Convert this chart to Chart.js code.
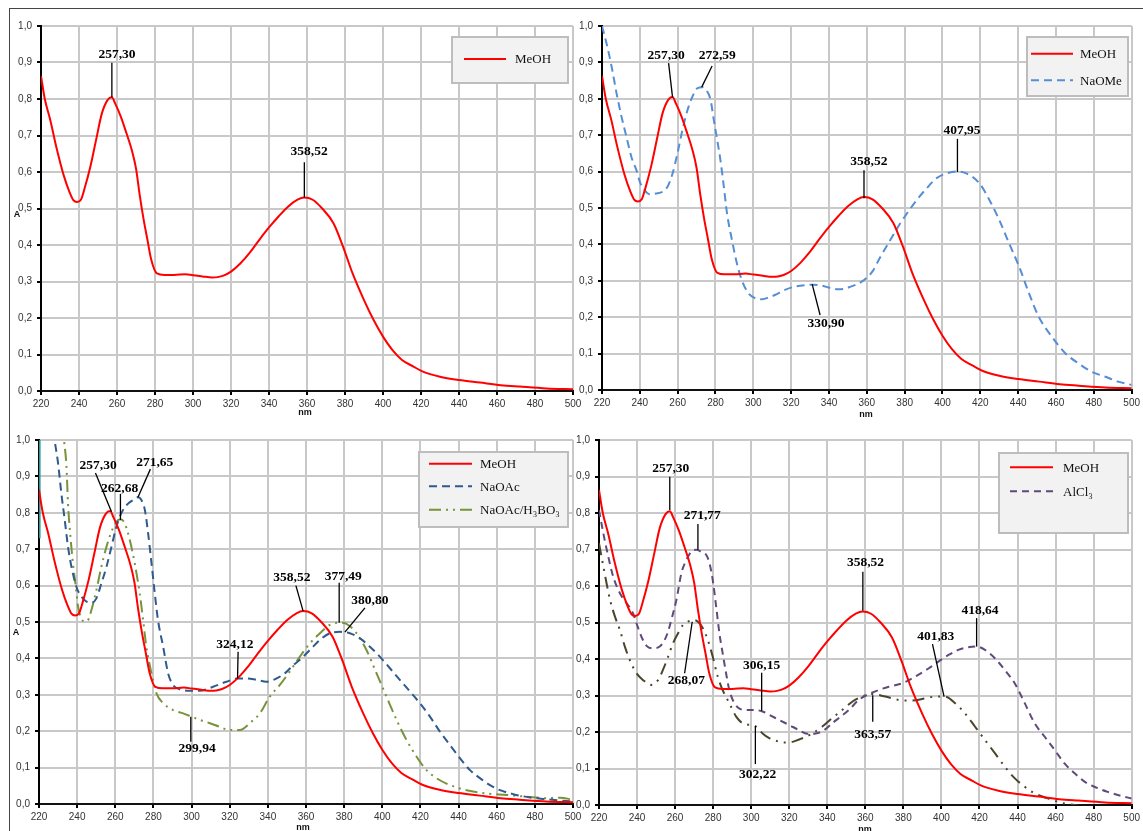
<!DOCTYPE html>
<html lang="es">
<head>
<meta charset="UTF-8">
<title>Espectros UV</title>
<style>
  body { margin: 0; background: #fff; }
  #wrap { position: relative; width: 1143px; height: 831px; overflow: hidden; }
  #frame { position: absolute; left: 9px; top: 8px; width: 1400px; height: 1200px; border: 1px solid #444; }
  canvas { position: absolute; left: 0; top: 0; }
</style>
</head>
<body>
<div id="wrap">
  <div id="frame"></div>
  <canvas id="c1" width="1143" height="831"></canvas>
  <canvas id="c2" width="1143" height="831"></canvas>
  <canvas id="c3" width="1143" height="831"></canvas>
  <canvas id="c4" width="1143" height="831"></canvas>
</div>

<script src="https://cdn.jsdelivr.net/npm/chart.js"></script>
<script>
// ---- data (nm / absorbance) ----
const yTickLabels = ['0,0', '0,1', '0,2', '0,3', '0,4', '0,5', '0,6', '0,7', '0,8', '0,9', '1,0'];

const meohNm = [220,222,225,228,232,235,237,239,241,243,246,249,252,255,257.3,259,262,265,268,270,272,274,276,278,281,285,290,296,300,305,310,313,316,320,325,330,335,340,345,350,355,358.5,363,368,374,379,384,390,395,400,405,410,416,421,430,440,451,462,472,486,500];
const meohA  = [0.863,0.80,0.74,0.67,0.59,0.545,0.523,0.518,0.524,0.556,0.615,0.688,0.76,0.797,0.805,0.788,0.752,0.706,0.656,0.61,0.535,0.47,0.415,0.36,0.322,0.318,0.318,0.32,0.317,0.314,0.311,0.312,0.316,0.327,0.350,0.38,0.415,0.448,0.478,0.505,0.524,0.530,0.524,0.50,0.459,0.395,0.322,0.249,0.195,0.149,0.112,0.085,0.067,0.053,0.039,0.030,0.023,0.016,0.012,0.007,0.005];

const naomeNm = [220,222.4,225.1,227.7,230.3,232.9,235.5,238.2,240,242.5,245.1,248.6,252.1,254.7,257.3,259.9,262.5,265.2,267.8,270.4,273,275.6,277.4,279.1,280.9,282.6,284.4,286.1,288.7,291.3,293.9,297.4,301,304.4,307.9,311.4,316.7,321.9,327.1,331.5,335.8,341,344.5,348,351.5,355,358.5,362.9,367.2,372.4,377.7,381.2,386.4,391.6,396.9,402.1,407.3,412.6,419.5,424.8,430,435.2,440.5,445.7,450.9,457.9,464.9,471.9,478.9,485.8,492.8,500];
const naomeA  = [1.0,0.952,0.888,0.815,0.751,0.696,0.641,0.604,0.572,0.549,0.538,0.540,0.545,0.559,0.595,0.650,0.714,0.769,0.806,0.829,0.832,0.820,0.797,0.742,0.687,0.632,0.559,0.485,0.412,0.348,0.302,0.266,0.252,0.249,0.254,0.261,0.275,0.284,0.288,0.289,0.287,0.280,0.277,0.278,0.284,0.291,0.302,0.325,0.366,0.412,0.458,0.485,0.522,0.554,0.582,0.595,0.600,0.595,0.568,0.522,0.467,0.403,0.339,0.266,0.201,0.146,0.101,0.073,0.050,0.037,0.023,0.014];

const naoacNm = [226.5,228,230,231.7,233.5,235.2,237,239.6,242.2,244.9,247.5,250.1,252.7,255.4,258,260.6,263.2,265.9,269.3,272,273.7,275.5,277.2,279,280.7,282.4,285.1,287.7,290.3,293.8,299.1,304.3,311.3,318.3,324.4,328.8,334.1,339.3,344.6,349.8,353,356.8,362,367.3,372.5,377.8,383,388.3,393.5,398.7,404,409.2,414.5,419.7,425,430.2,435.5,440.7,446,451.2,456.5,461.7,468.7,477.5,486.2,496.7,500];
const naoacA  = [1.06,1.005,0.936,0.854,0.780,0.707,0.652,0.597,0.570,0.556,0.553,0.565,0.606,0.652,0.707,0.762,0.799,0.821,0.835,0.843,0.835,0.808,0.744,0.661,0.579,0.505,0.432,0.359,0.327,0.315,0.311,0.311,0.322,0.336,0.345,0.345,0.341,0.336,0.345,0.363,0.38,0.396,0.423,0.451,0.469,0.473,0.469,0.455,0.432,0.405,0.373,0.341,0.309,0.277,0.240,0.199,0.162,0.126,0.093,0.071,0.052,0.038,0.027,0.018,0.013,0.008,0.007];

const boricNm = [232,233,234.4,235.2,236.5,237.8,239.3,240.5,242.2,244,245.7,247.5,250.1,252.7,255.4,258,260.6,262.7,265,267.6,270.2,272.8,274.6,276.3,279,281.6,285.1,290.3,295.6,300,304.3,309.6,314.8,320.1,325.3,330.5,335.8,341,346.3,351.5,356.8,362,367.3,372.5,377.8,381.2,386.5,391.7,397,402.2,407.5,412.7,418,423.2,428.4,435.5,444.2,454.7,465.2,475.7,486.2,493.2,500];
const boricA  = [1.06,1.005,0.927,0.826,0.734,0.661,0.597,0.542,0.510,0.501,0.505,0.533,0.588,0.652,0.707,0.748,0.776,0.782,0.771,0.725,0.661,0.579,0.505,0.432,0.359,0.304,0.277,0.258,0.249,0.240,0.231,0.222,0.212,0.203,0.203,0.222,0.249,0.295,0.327,0.364,0.405,0.441,0.469,0.492,0.498,0.495,0.469,0.423,0.359,0.295,0.231,0.176,0.130,0.093,0.071,0.052,0.038,0.029,0.025,0.020,0.016,0.017,0.012];

const edgeNm = [220.3, 220.3];
const edgeA  = [1.05, 0.73];

const alclNm = [220,222.3,224.9,227.5,231,234.5,237.9,239.7,242.3,245,248.4,251.9,254.5,256.3,258,260.7,263.3,265.9,268.5,271.1,273.7,276.4,278.1,279.8,281.6,283.3,285,286.8,288.5,291.2,294.7,299,302.5,306,309.5,314.7,320,325.2,329.5,333.9,338.3,342.6,347,351.3,356.6,361.8,367,372.3,379.2,386.2,393.2,398.4,403.7,408.9,414.1,418.5,422.9,428.1,433.3,438.6,443.8,449,454.3,459.5,464.7,470,475.2,480.4,487.4,494.4,500];
const alclA  = [0.808,0.744,0.680,0.625,0.580,0.553,0.525,0.498,0.461,0.436,0.429,0.434,0.452,0.475,0.507,0.562,0.635,0.671,0.694,0.699,0.694,0.685,0.662,0.616,0.543,0.470,0.416,0.361,0.315,0.279,0.262,0.260,0.260,0.256,0.247,0.233,0.219,0.205,0.195,0.196,0.205,0.224,0.242,0.260,0.288,0.304,0.315,0.324,0.333,0.352,0.374,0.393,0.411,0.425,0.432,0.434,0.425,0.402,0.370,0.333,0.279,0.224,0.187,0.151,0.114,0.087,0.064,0.050,0.036,0.025,0.018];

const hclNm = [220,222.3,224,225.8,228.4,231,233.6,236.2,239.7,243.2,247.6,251,253.6,256.3,258.9,261.5,264.1,266.7,269.3,272,274.6,277.2,279.8,282.4,285,288.5,292.1,295.5,299.9,302.5,306,309.5,313,317.3,321.7,326.9,332.1,337.4,342.6,347.8,353.1,358.3,363.5,370.5,377.5,384.5,391.5,396.7,401.9,407.2,412.4,417.6,422.9,428.1,433.3,438.6,443.8,449,456,463,470,476,482];
const hclA  = [0.717,0.653,0.607,0.562,0.516,0.479,0.434,0.397,0.361,0.342,0.329,0.342,0.370,0.406,0.443,0.470,0.493,0.502,0.507,0.502,0.484,0.452,0.406,0.352,0.315,0.279,0.242,0.224,0.219,0.215,0.196,0.183,0.176,0.171,0.173,0.183,0.196,0.215,0.238,0.260,0.283,0.297,0.304,0.297,0.288,0.286,0.292,0.297,0.297,0.279,0.251,0.215,0.178,0.142,0.105,0.073,0.050,0.032,0.018,0.006,0.0,-0.006,-0.015];

// peak labels: text at (tx,ty), leader line (x1,y1)-(x2,y2), all in nm / A
const peaks1 = [
  { label: '257,30', tx: 260.0, ty: 0.921, x1: 257.3, y1: 0.899, x2: 257.3, y2: 0.805 },
  { label: '358,52', tx: 361.1, ty: 0.655, x1: 358.6, y1: 0.627, x2: 358.6, y2: 0.530 }
];
const peaks2 = [
  { label: '257,30', tx: 253.9, ty: 0.920, x1: 255.2, y1: 0.898, x2: 257.3, y2: 0.804 },
  { label: '272,59', tx: 280.9, ty: 0.920, x1: 278.2, y1: 0.890, x2: 272.7, y2: 0.832 },
  { label: '330,90', tx: 338.4, ty: 0.184, x1: 335.3, y1: 0.206, x2: 331.1, y2: 0.291 },
  { label: '358,52', tx: 361.1, ty: 0.629, x1: 358.5, y1: 0.604, x2: 358.5, y2: 0.527 },
  { label: '407,95', tx: 410.3, ty: 0.714, x1: 407.9, y1: 0.690, x2: 407.9, y2: 0.599 }
];
const peaks3 = [
  { label: '257,30', tx: 251.0, ty: 0.929, x1: 249.6, y1: 0.909, x2: 258.0, y2: 0.803 },
  { label: '262,68', tx: 262.3, ty: 0.867, x1: 262.7, y1: 0.852, x2: 262.7, y2: 0.780 },
  { label: '271,65', tx: 280.7, ty: 0.938, x1: 278.4, y1: 0.920, x2: 271.9, y2: 0.843 },
  { label: '324,12', tx: 322.7, ty: 0.437, x1: 324.4, y1: 0.418, x2: 324.1, y2: 0.345 },
  { label: '299,94', tx: 302.9, ty: 0.153, x1: 299.6, y1: 0.171, x2: 299.6, y2: 0.240 },
  { label: '358,52', tx: 352.6, ty: 0.622, x1: 354.7, y1: 0.600, x2: 358.5, y2: 0.530 },
  { label: '377,49', tx: 379.5, ty: 0.624, x1: 377.4, y1: 0.608, x2: 377.4, y2: 0.498 },
  { label: '380,80', tx: 393.5, ty: 0.558, x1: 390.9, y1: 0.539, x2: 380.4, y2: 0.472 }
];
const peaks4 = [
  { label: '257,30', tx: 257.7, ty: 0.922, x1: 257.2, y1: 0.899, x2: 257.2, y2: 0.808 },
  { label: '271,77', tx: 274.3, ty: 0.792, x1: 272.0, y1: 0.770, x2: 272.0, y2: 0.699 },
  { label: '268,07', tx: 265.9, ty: 0.342, x1: 265.0, y1: 0.361, x2: 269.0, y2: 0.502 },
  { label: '306,15', tx: 305.5, ty: 0.381, x1: 305.5, y1: 0.362, x2: 305.5, y2: 0.258 },
  { label: '302,22', tx: 303.4, ty: 0.084, x1: 302.2, y1: 0.112, x2: 302.2, y2: 0.216 },
  { label: '358,52', tx: 360.1, ty: 0.664, x1: 358.7, y1: 0.639, x2: 358.7, y2: 0.532 },
  { label: '418,64', tx: 420.3, ty: 0.534, x1: 418.5, y1: 0.512, x2: 418.5, y2: 0.434 },
  { label: '401,83', tx: 397.0, ty: 0.461, x1: 395.3, y1: 0.441, x2: 401.4, y2: 0.297 },
  { label: '363,57', tx: 363.9, ty: 0.192, x1: 363.9, y1: 0.228, x2: 363.9, y2: 0.301 }
];

// ---- styling ----
Chart.defaults.font.family = '"Liberation Sans", Arial, sans-serif';
const serif = '"Liberation Serif", "Times New Roman", serif';

const W = 1143, H = 831, YW = 38, XH = 20;

function pts(xs, ys) {
  return xs.map((x, i) => ({ x: x, y: ys[i] }));
}

function series(label, xs, ys, color, dash, legend) {
  return {
    label: label,
    data: pts(xs, ys),
    borderColor: color,
    borderDash: dash || [],
    borderWidth: 2,
    inLegend: legend !== false
  };
}

function meoh() { return series('MeOH', meohNm, meohA, '#ff0000'); }

function overlay(cfg) {
  return {
    id: 'overlay',
    afterDatasetsDraw(chart) {
      const ctx = chart.ctx, sx = chart.scales.x, sy = chart.scales.y;
      ctx.save();

      // peak labels
      ctx.strokeStyle = '#000';
      ctx.fillStyle = '#000';
      ctx.lineWidth = 1.3;
      ctx.font = 'bold 13.5px ' + serif;
      ctx.textAlign = 'center';
      ctx.textBaseline = 'middle';
      cfg.peaks.forEach(p => {
        ctx.beginPath();
        ctx.moveTo(sx.getPixelForValue(p.x1), sy.getPixelForValue(p.y1));
        ctx.lineTo(sx.getPixelForValue(p.x2), sy.getPixelForValue(p.y2));
        ctx.stroke();
        ctx.fillText(p.label, sx.getPixelForValue(p.tx), sy.getPixelForValue(p.ty));
      });

      // legend box
      const lg = cfg.legend;
      ctx.fillStyle = '#f2f2f2';
      ctx.fillRect(lg.x, lg.y, lg.w, lg.h);
      ctx.strokeStyle = '#bdbdbd';
      ctx.lineWidth = 2;
      ctx.strokeRect(lg.x, lg.y, lg.w, lg.h);
      ctx.font = '13px ' + serif;
      ctx.textAlign = 'left';
      const items = chart.data.datasets.filter(d => d.inLegend);
      items.forEach((d, i) => {
        const y = lg.y + lg.rows[i];
        ctx.strokeStyle = d.borderColor;
        ctx.lineWidth = 2;
        ctx.setLineDash(d.borderDash);
        ctx.beginPath();
        ctx.moveTo(lg.x + lg.lineX, y);
        ctx.lineTo(lg.x + lg.lineX + lg.lineLen, y);
        ctx.stroke();
        ctx.setLineDash([]);
        ctx.fillStyle = '#111';
        ctx.fillText(d.label, lg.x + lg.textX, y + 1);
      });

      // axis titles
      ctx.fillStyle = '#111';
      ctx.font = 'bold 9px "Liberation Sans", Arial, sans-serif';
      ctx.textAlign = 'center';
      if (cfg.yTitle) ctx.fillText('A', cfg.yTitle[0], cfg.yTitle[1]);
      ctx.fillText('nm', cfg.xTitle[0], cfg.xTitle[1]);
      ctx.restore();
    }
  };
}

function buildChart(id, area, datasets, cfg) {
  return new Chart(document.getElementById(id), {
    type: 'line',
    data: { datasets: datasets },
    options: {
      responsive: false,
      animation: false,
      events: [],
      layout: {
        autoPadding: false,
        padding: { left: area.l - YW, top: area.t, right: W - area.r, bottom: H - area.b - XH }
      },
      plugins: { legend: { display: false }, tooltip: { enabled: false } },
      elements: {
        point: { radius: 0 },
        line: { cubicInterpolationMode: 'monotone' }
      },
      scales: {
        x: {
          type: 'linear', min: 220, max: 500,
          afterFit: s => { s.height = XH; },
          ticks: { stepSize: 20, padding: 3, color: '#333', font: { size: 10 }, maxRotation: 0 },
          grid: { color: '#c8c8c8', lineWidth: 2, tickColor: '#000', tickLength: 4 },
          border: { color: '#111', width: 2 }
        },
        y: {
          min: 0, max: 1,
          afterFit: s => { s.width = YW; },
          ticks: {
            stepSize: 0.1, padding: 5, color: '#333', font: { size: 10 },
            callback: v => yTickLabels[Math.round(v * 10)]
          },
          grid: { color: '#c8c8c8', lineWidth: 2, tickColor: '#000', tickLength: 4 },
          border: { color: '#000', width: 2 }
        }
      }
    },
    plugins: [overlay(cfg)]
  });
}

// ---- panels ----
buildChart('c1', { l: 41, t: 26, r: 573, b: 391 }, [meoh()], {
  peaks: peaks1,
  legend: { x: 452, y: 37, w: 116, h: 46, rows: [22], lineX: 12, lineLen: 42, textX: 63 },
  yTitle: [17, 215], xTitle: [305, 413]
});

buildChart('c2', { l: 602, t: 26, r: 1137, b: 390 }, [
  meoh(),
  series('NaOMe', naomeNm, naomeA, '#558ed5', [8, 5])
], {
  peaks: peaks2,
  legend: { x: 1027, y: 37, w: 101, h: 59, rows: [16.7, 43.3], lineX: 4, lineLen: 42, textX: 53 },
  yTitle: null, xTitle: [866, 415]
});

buildChart('c3', { l: 39, t: 440, r: 573, b: 804 }, [
  meoh(),
  series('NaOAc', naoacNm, naoacA, '#2f5a8c', [8, 5]),
  series('NaOAc/H₃BO₃', boricNm, boricA, '#77933c', [12, 5, 2, 5, 2, 5]),
  Object.assign(series('', edgeNm, edgeA, '#1e9c9c', [], false), { cubicInterpolationMode: 'default', tension: 0 })
], {
  peaks: peaks3,
  legend: { x: 419, y: 452, w: 149, h: 75, rows: [11.7, 34.3, 57.7], lineX: 10, lineLen: 43, textX: 61 },
  yTitle: [16, 633], xTitle: [303, 828]
});

buildChart('c4', { l: 599, t: 440, r: 1134, b: 805 }, [
  meoh(),
  series('AlCl₃', alclNm, alclA, '#604a7b', [7, 5]),
  series('AlCl₃/HCl', hclNm, hclA, '#4a452a', [12, 6, 2, 6, 2, 6], false)
], {
  peaks: peaks4,
  legend: { x: 999, y: 453, w: 129, h: 80, rows: [14.3, 38.3], lineX: 11, lineLen: 43, textX: 64 },
  yTitle: null, xTitle: [865, 830]
});
</script>
</body>
</html>
